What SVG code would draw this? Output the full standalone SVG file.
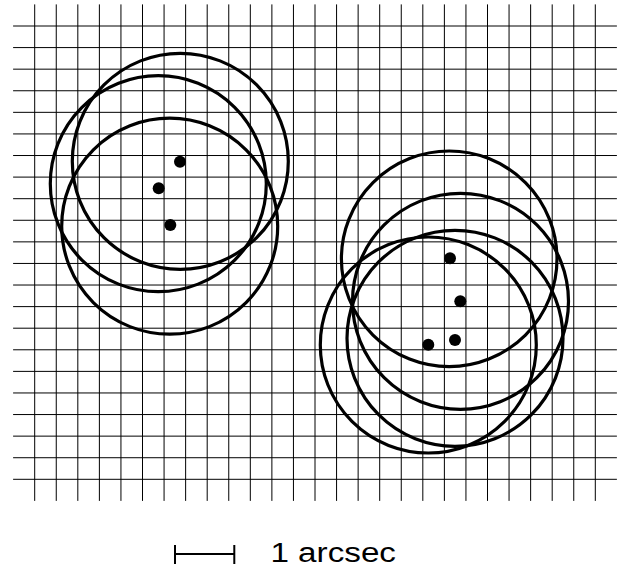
<svg xmlns="http://www.w3.org/2000/svg" width="624" height="574" viewBox="0 0 624 574">
<style>
.grid{stroke:#000;stroke-width:1;fill:none}
.ring{stroke:#000;stroke-width:3.2;fill:none}
.dot{fill:#000}
.bar{stroke:#000;stroke-width:2;fill:none}
.lbl{font-family:"Liberation Sans",Arial,sans-serif;font-size:27px;fill:#000}
</style>
<rect width="624" height="574" fill="#fff"/>
<g id="grid" class="grid">
<path d="M34.7 4.4V500.9M56.26 4.4V500.9M77.82 4.4V500.9M99.39 4.4V500.9M120.95 4.4V500.9M142.51 4.4V500.9M164.07 4.4V500.9M185.63 4.4V500.9M207.2 4.4V500.9M228.76 4.4V500.9M250.32 4.4V500.9M271.88 4.4V500.9M293.44 4.4V500.9M315.01 4.4V500.9M336.57 4.4V500.9M358.13 4.4V500.9M379.69 4.4V500.9M401.25 4.4V500.9M422.82 4.4V500.9M444.38 4.4V500.9M465.94 4.4V500.9M487.5 4.4V500.9M509.06 4.4V500.9M530.63 4.4V500.9M552.19 4.4V500.9M573.75 4.4V500.9M595.31 4.4V500.9"/>
<path d="M13.1 26H616.9M13.1 47.59H616.9M13.1 69.17H616.9M13.1 90.76H616.9M13.1 112.34H616.9M13.1 133.93H616.9M13.1 155.52H616.9M13.1 177.1H616.9M13.1 198.69H616.9M13.1 220.27H616.9M13.1 241.86H616.9M13.1 263.45H616.9M13.1 285.03H616.9M13.1 306.62H616.9M13.1 328.2H616.9M13.1 349.79H616.9M13.1 371.38H616.9M13.1 392.96H616.9M13.1 414.55H616.9M13.1 436.13H616.9M13.1 457.72H616.9M13.1 479.3H616.9"/>
</g>
<g id="group-left">
<circle class="ring" cx="180.3" cy="161.3" r="108"/>
<circle class="ring" cx="158.3" cy="183.7" r="108"/>
<circle class="ring" cx="169.7" cy="226.2" r="108"/>
<circle class="dot" cx="180" cy="161.7" r="6"/>
<circle class="dot" cx="158.7" cy="188.3" r="6"/>
<circle class="dot" cx="170.3" cy="225" r="6"/>
</g>
<g id="group-right">
<circle class="ring" cx="449.2" cy="258.8" r="107.8"/>
<circle class="ring" cx="460.5" cy="301.3" r="108"/>
<circle class="ring" cx="428.3" cy="345" r="108"/>
<circle class="ring" cx="455" cy="338.3" r="108"/>
<circle class="dot" cx="450" cy="258.3" r="6"/>
<circle class="dot" cx="460.3" cy="301.3" r="6"/>
<circle class="dot" cx="428.3" cy="344.7" r="6"/>
<circle class="dot" cx="455" cy="340" r="6"/>
</g>
<g id="scale">
<path class="bar" d="M175 554H234.3M175 545V564M234.3 545V564"/>
<text class="lbl" x="270.4" y="562" textLength="125.6" lengthAdjust="spacingAndGlyphs">1 arcsec</text>
</g>
</svg>
